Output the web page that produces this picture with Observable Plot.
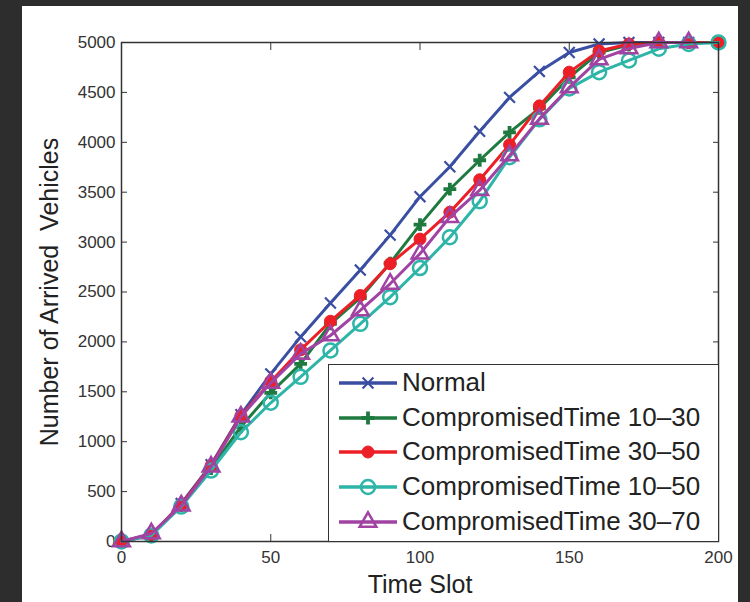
<!DOCTYPE html>
<html><head><meta charset="utf-8">
<script src="https://cdn.jsdelivr.net/npm/d3@7"></script>
<script src="https://cdn.jsdelivr.net/npm/@observablehq/plot@0.6"></script>
<style>
html,body{margin:0;padding:0;background:#2d2d2d;width:750px;height:602px;overflow:hidden}
#panel{position:absolute;left:22px;top:6px;width:716px;height:596px;background:#fff;overflow:hidden}
#legend{position:absolute;left:306px;top:358px;width:391px;height:178px;border:1.5px solid #333;background:#fff;box-sizing:border-box;font-family:"Liberation Sans",Arial,sans-serif;color:#222}
.row{position:absolute;left:0;height:30px;width:100%}
.row svg{position:absolute;left:9px;top:0}
.row span{position:absolute;left:73px;top:1px;font-size:26px;line-height:27px;white-space:nowrap}
</style></head>
<body>
<div id="panel"><div id="chart"></div><div id="legend"></div></div>
<script>
const timeSlots = [0,10,20,30,40,50,60,70,80,90,100,110,120,130,140,150,160,170,180,190,200];
const normal    = [0,60,380,770,1270,1680,2050,2390,2720,3070,3455,3755,4110,4450,4710,4900,4985,5000,5000,5000,5000];
const comp1030  = [0,70,360,730,1150,1490,1780,2180,2440,2790,3175,3530,3820,4100,4340,4650,4900,4975,5000,5000,5000];
const comp3050  = [0,70,370,760,1260,1600,1920,2207,2465,2783,3030,3300,3625,3975,4365,4703,4915,4985,5000,5000,5000];
const comp1050  = [0,60,350,711,1095,1390,1650,1914,2181,2448,2740,3049,3410,3850,4230,4540,4703,4820,4937,4985,5000];
const comp3070  = [0,80,360,750,1250,1590,1880,2064,2315,2582,2883,3250,3520,3868,4235,4550,4830,4940,5000,5000,null];
const seriesNames = ["Normal","CompromisedTime 10\u201330","CompromisedTime 30\u201350","CompromisedTime 10\u201350","CompromisedTime 30\u201370"];
const xTicks = [0,50,100,150,200];
const yTicks = [0,500,1000,1500,2000,2500,3000,3500,4000,4500,5000];
const xLabel = "Time Slot";
const yLabel = "Number of Arrived\u00a0 Vehicles";

const seriesValues = [normal, comp1030, comp3050, comp1050, comp3070];
const styles = [
  {color:"#3a4ea2", symbol:"times", r:5, fill:"none", sw:2.2},
  {color:"#1f7a40", symbol:"plus", r:4.2, fill:"none", sw:3.8},
  {color:"#ec1f27", symbol:"circle", r:6, fill:"#ec1f27", sw:1},
  {color:"#2db5a8", symbol:"circle", r:7, fill:"none", sw:2.5},
  {color:"#a043a3", symbol:"triangle", r:6.2, fill:"none", sw:2.5}
];
const drawOrder = [0,1,2,3,4];

function rows(i){
  return timeSlots.map((t,j)=>({t, v: seriesValues[i][j]})).filter(d=>d.v!=null);
}

const seriesMarks = [];
for (const i of drawOrder) {
  const s = styles[i], data = rows(i);
  seriesMarks.push(Plot.line(data, {x:"t", y:"v", stroke:s.color, strokeWidth:3}));
  seriesMarks.push(Plot.dot(data, {x:"t", y:"v", symbol:s.symbol, r:s.r,
    stroke:s.color, strokeWidth:s.sw, fill:s.fill}));
}

const fmt = d => String(d);
const chart = Plot.plot({
  width:716, height:596,
  marginLeft:99, marginRight:20, marginTop:36, marginBottom:61,
  x:{domain:[0,200], label:null},
  y:{domain:[0,5000], label:null},
  style:{fontFamily:"'Liberation Sans', Arial, sans-serif", background:"transparent", color:"#333"},
  marks:[
    Plot.axisX(xTicks, {anchor:"bottom", tickSize:0, tickPadding:9, fontSize:17, fill:"#333", label:null, tickFormat:fmt}),
    Plot.axisX(xTicks, {anchor:"bottom", tickSize:-7, fill:"none", stroke:"#333", label:null}),
    Plot.axisX(xTicks, {anchor:"top", tickSize:-7, fill:"none", stroke:"#333", label:null}),
    Plot.axisY(yTicks, {anchor:"left", tickSize:0, tickPadding:6, fontSize:17, fill:"#333", label:null, tickFormat:fmt}),
    Plot.axisY(yTicks, {anchor:"left", tickSize:-6, fill:"none", stroke:"#333", label:null}),
    Plot.axisY(yTicks, {anchor:"right", tickSize:-6, fill:"none", stroke:"#333", label:null}),
    ...seriesMarks,
    Plot.frame({stroke:"#333", strokeWidth:1.5}),
    Plot.text([yLabel], {frameAnchor:"left", textAnchor:"middle", lineAnchor:"middle", dx:-72, rotate:-90, fontSize:25, fill:"#222"}),
    Plot.text([xLabel], {frameAnchor:"bottom", textAnchor:"middle", lineAnchor:"middle", dy:43, fontSize:25, fill:"#222"})
  ]
});
document.getElementById("chart").appendChild(chart);

// legend
const legend = document.getElementById("legend");
const rowCenters = [19, 54, 88, 123, 158];
seriesNames.forEach((name,i)=>{
  const s = styles[i];
  const row = document.createElement("div");
  row.className = "row";
  row.style.top = (rowCenters[i]-15-1.5) + "px";
  const svg = d3.create("svg").attr("width",62).attr("height",30);
  svg.append("line").attr("x1",1).attr("x2",59).attr("y1",15).attr("y2",15)
     .attr("stroke",s.color).attr("stroke-width",3.5);
  const sym = {times:d3.symbolTimes, plus:d3.symbolPlus, circle:d3.symbolCircle, triangle:d3.symbolTriangle}[s.symbol];
  svg.append("path").attr("transform","translate(30,15)")
     .attr("d", d3.symbol(sym, s.r*s.r*Math.PI)())
     .attr("stroke",s.color).attr("stroke-width",s.sw).attr("fill",s.fill);
  row.appendChild(svg.node());
  const sp = document.createElement("span");
  sp.textContent = name;
  row.appendChild(sp);
  legend.appendChild(row);
});
</script>
</body></html>
